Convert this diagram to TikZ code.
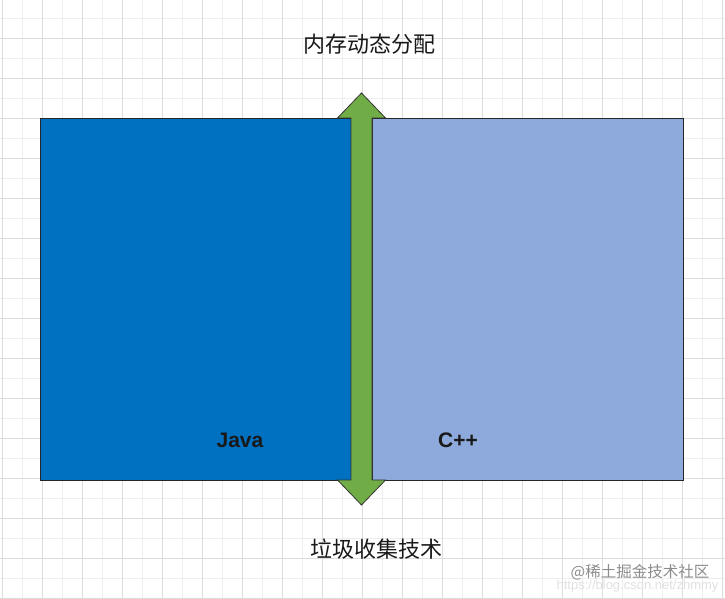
\documentclass[tikz,border=0pt]{standalone}
\usepackage{fontspec}
\usepackage{tikz}
\newfontfamily\cjk{Noto Sans CJK SC}
\newfontfamily\latinsans{Liberation Sans}
\definecolor{javablue}{RGB}{0,112,192}
\definecolor{cppblue}{RGB}{142,169,219}
\definecolor{arrowgreen}{RGB}{112,173,71}
\definecolor{gridminor}{RGB}{238,238,238}
\definecolor{gridmajor}{RGB}{220,220,220}
\tikzset{
  block/.style={draw=black!85,line width=0.8pt,minimum width=311pt,minimum height=362pt,inner sep=0pt,outer sep=0pt},
  title/.style={font=\cjk\fontsize{22}{22}\selectfont,text=black!90},
  lang/.style={font=\latinsans\bfseries\fontsize{21}{21}\selectfont,text=black!90},
  mark text/.style={font=\cjk\fontsize{15.5}{15.5}\selectfont,text=black!45}
}

\begin{document}
\begin{tikzpicture}[x=1pt,y=-1pt]
    \useasboundingbox (0,0) rectangle (725,599);
    % Grid
    \foreach \gx in {2.7,22.7,...,725} {
        \draw[gridminor,line width=0.7pt] (\gx,0) to (\gx,599);
    }
    \foreach \gy in {18.3,38.3,...,599} {
        \draw[gridminor,line width=0.7pt] (0,\gy) to (725,\gy);
    }
    \foreach \gx in {2.7,42.7,...,725} {
        \draw[gridmajor,line width=0.7pt] (\gx,0) to (\gx,599);
    }
    \foreach \gy in {38.3,78.3,...,599} {
        \draw[gridmajor,line width=0.7pt] (0,\gy) to (725,\gy);
    }
    % Blocks
    \node[block,fill=javablue,anchor=north west] (java) at (40,118) {};
    \node[block,fill=cppblue,anchor=north west] (cpp) at (372,118) {};
    % Double arrow
    \draw[fill=arrowgreen,draw=black!80,line width=0.8pt,line join=miter]
        (361.5,93) -- (385.5,118) -- (372,118) -- (372,480) -- (385.5,480)
        -- (361.5,505) -- (337.5,480) -- (351,480) -- (351,118) -- (337.5,118) -- cycle;
    % Labels
    \node[title] (alloc) at (369,44) {内存动态分配};
    \node[title] (gc) at (376,549) {垃圾收集技术};
    \node[lang] (javalabel) at (240,440) {Java};
    \node[lang] (cpplabel) at (458,440) {C++};
    % Watermark
    \node[font=\latinsans\fontsize{13}{13}\selectfont,text=black!12,anchor=east] (url) at (722,586) {https://blog.csdn.net/zhmmy};
    \node[mark text] (mark) at (640,572) {@稀土掘金技术社区};
\end{tikzpicture}
\end{document}
